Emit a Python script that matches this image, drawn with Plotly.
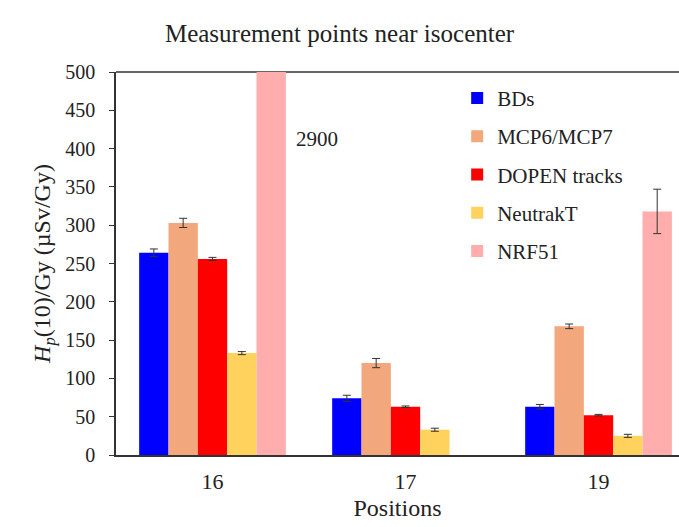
import plotly.graph_objects as go

positions = ["16", "17", "19"]
series_names = ["BDs", "MCP6/MCP7", "DOPEN tracks", "NeutrakT", "NRF51"]
bds = [264, 74, 63]
bds_err = [5, 4, 3]
mcp = [303, 120, 168]
mcp_err = [6, 6, 3]
dopen = [256, 63, 52]
dopen_err = [2, 1, 1]
neutrak = [133, 33, 25]
neutrak_err = [2, 2, 2]
nrf51 = [2900, None, 318]
nrf51_err = [0, None, 29]
colors = ["#0000FF", "#F2A77C", "#FF0000", "#FFD25E", "#FFADAD"]

values = [bds, mcp, dopen, neutrak, nrf51]
errors = [bds_err, mcp_err, dopen_err, neutrak_err, nrf51_err]

font_family = "Liberation Serif"

fig = go.Figure()
for i, name in enumerate(series_names):
    fig.add_trace(go.Bar(
        x=positions, y=values[i], name=name,
        marker=dict(color=colors[i], line=dict(width=0)),
        error_y=dict(type="data", array=errors[i], visible=True,
                     color="#333333", thickness=1, width=4),
        legendgroup=name,
    ))

fig.update_layout(
    width=679, height=527,
    margin=dict(l=116, r=0, t=72, b=72),
    paper_bgcolor="white", plot_bgcolor="white",
    barmode="group", bargap=0.24, bargroupgap=0,
    font=dict(family=font_family, size=20, color="#222222"),
    title=dict(text="Measurement points near isocenter", x=0.5, xanchor="center",
               y=0.937, yanchor="middle",
               font=dict(family=font_family, size=25, color="#222222")),
    legend=dict(x=0.606, y=0.985, xanchor="left", yanchor="top",
                bgcolor="rgba(0,0,0,0)", tracegroupgap=8,
                font=dict(family=font_family, size=21, color="#222222"),
                itemwidth=30),
    showlegend=True,
)
fig.update_xaxes(
    type="category", range=[-0.5, 2.417], automargin=False,
    showline=True, linecolor="#333333", linewidth=1.5,
    ticks="", showgrid=False, ticklabelstandoff=6,
    tickfont=dict(family=font_family, size=22),
    title=dict(text="Positions", font=dict(family=font_family, size=24), standoff=6),
)
fig.update_yaxes(
    range=[0, 500], dtick=50, automargin=False,
    showline=True, linecolor="#333333", linewidth=1.5,
    ticks="outside", ticklen=5, tickcolor="#333333",
    showgrid=False, zeroline=False, ticklabelstandoff=10,
    tickfont=dict(family=font_family, size=20),
    title=dict(text="<i>H</i><sub><i>p</i></sub>(10)/Gy (µSv/Gy)",
               font=dict(family=font_family, size=24), standoff=8),
)
fig.add_shape(type="line", xref="paper", yref="paper", x0=0, x1=1, y0=1, y1=1,
              line=dict(color="#333333", width=1.5), layer="below")
fig.add_annotation(x=0.54, y=412, xref="x", yref="y", text="2900", showarrow=False,
                   font=dict(family=font_family, size=21, color="#222222"))

fig.write_html("out.html", config={"displayModeBar": False},
               post_script="document.body.style.margin='0px';document.body.style.overflow='hidden';")
